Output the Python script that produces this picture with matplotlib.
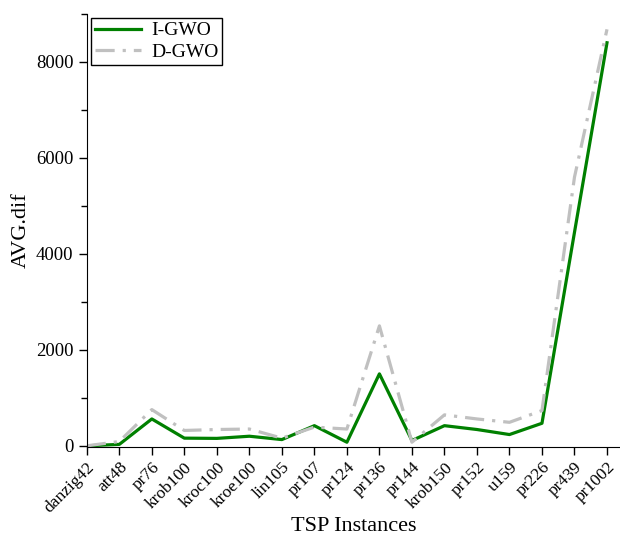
import matplotlib
matplotlib.use("Agg")
import matplotlib.pyplot as plt
from matplotlib.ticker import MultipleLocator

plt.rcParams['font.family'] = ['Liberation Serif', 'DejaVu Serif']

instancias = ["danzig42", "att48", "pr76", "krob100", "kroc100", "kroe100", "lin105",
              "pr107", "pr124", "pr136", "pr144", "krob150", "pr152", "u159", "pr226",
              "pr439", "pr1002"]
i_gwo = [0, 30, 560, 160, 155, 200, 130, 420, 75, 1500, 110, 420, 340, 235, 470, 4450, 8400]
d_gwo = [0, 90, 755, 320, 340, 350, 160, 390, 350, 2500, 75, 645, 560, 490, 735, 5600, 8680]

fig = plt.figure(figsize=(6.2, 5.37), dpi=100)
ax = fig.add_axes([0.140, 0.168, 0.860, 0.806])

x = range(len(instancias))
ax.plot(x, i_gwo, color='green', linewidth=2.3, label='I-GWO')
ax.plot(x, d_gwo, color='#c0c0c0', linewidth=2.3, linestyle=(0, (6, 2.5, 1, 2.5)), label='D-GWO')

ax.set_xlim(0, 16.4)
ax.set_ylim(-20, 9000)
ax.set_xticks(list(x))
ax.set_xticklabels(instancias, rotation=45, fontsize=12.5, ha='right', rotation_mode='anchor')
ax.yaxis.set_major_locator(MultipleLocator(2000))
ax.yaxis.set_minor_locator(MultipleLocator(1000))
ax.tick_params(axis='y', labelsize=13.5, length=6, width=1)
ax.tick_params(axis='y', which='minor', length=4, width=1)
ax.tick_params(axis='x', length=6, width=1, pad=3)

for lado in ['top', 'right']:
    ax.spines[lado].set_visible(False)

ax.set_xlabel("TSP Instances", fontsize=16, labelpad=1)
ax.set_ylabel("AVG.dif", fontsize=16)

leg = ax.legend(loc='upper left', fontsize=14, fancybox=False, framealpha=1,
                edgecolor='black', borderaxespad=0.2, handlelength=2.4,
                handletextpad=0.5, borderpad=0.2, labelspacing=0.2)

fig.savefig("out.png", dpi=100)
